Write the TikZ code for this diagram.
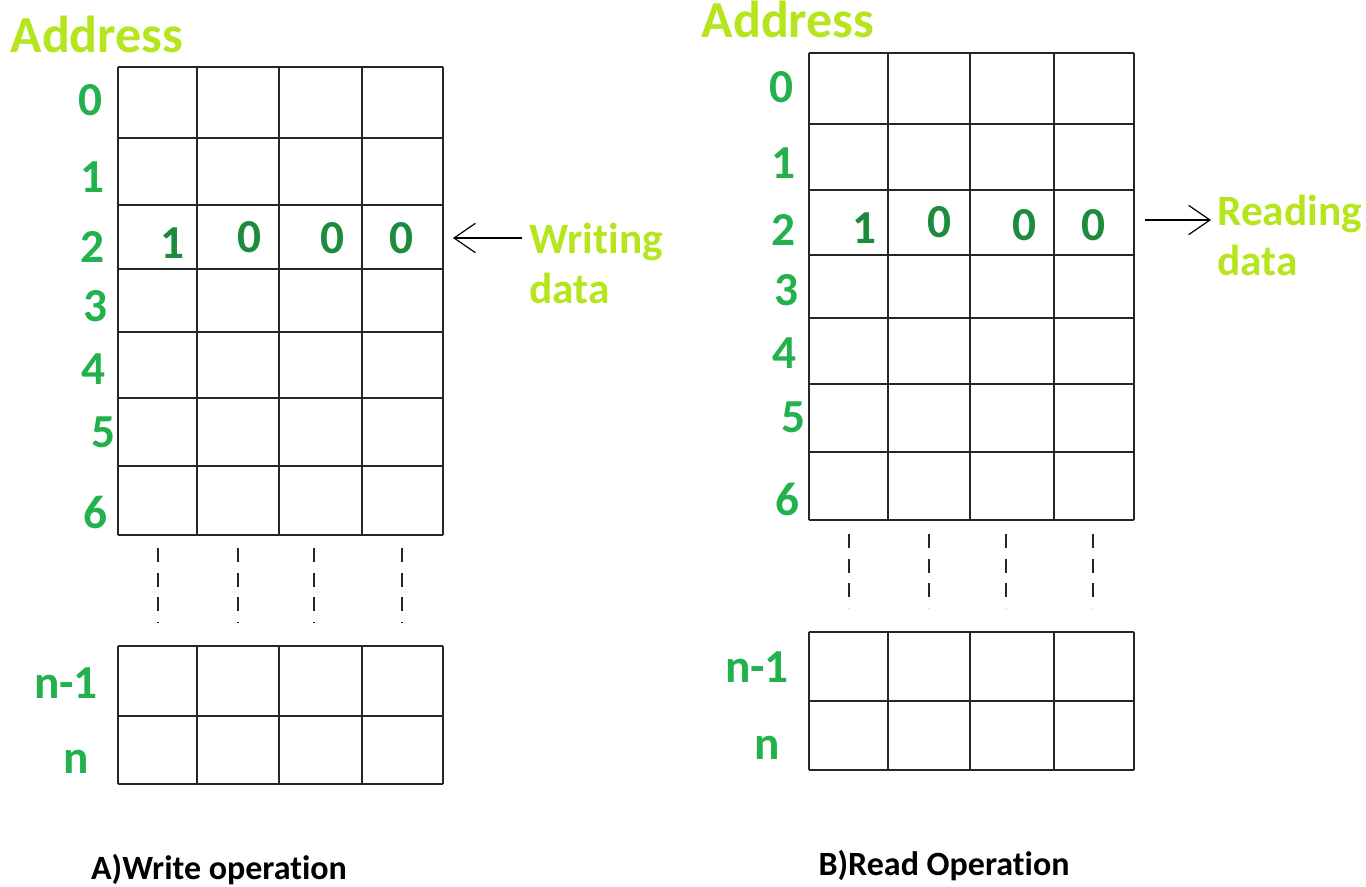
\documentclass[tikz,border=0pt]{standalone}
\usepackage{fontspec}
\setmainfont{Carlito}[Ligatures=NoCommon]
\usetikzlibrary{arrows.meta}

\definecolor{addrlime}{HTML}{B5E61D}
\definecolor{rowgreen}{HTML}{22B14C}
\definecolor{bitgreen}{HTML}{1D8B3D}

\begin{document}
\begin{tikzpicture}[
  x=0.75pt, y=-0.75pt,
  % ---- Text styles ----
  addr/.style={text=addrlime, inner sep=0, anchor=base,
               font=\fontsize{39}{42}\selectfont\bfseries},
  rowno/.style={text=rowgreen, inner sep=0, anchor=base,
                font=\fontsize{35.5}{38}\selectfont\bfseries},
  bit/.style={rowno, text=bitgreen},
  note/.style={text=addrlime, inner sep=0, anchor=base west, align=left,
               font=\fontsize{32.5}{37.5}\selectfont\bfseries},
  caption/.style={inner sep=0, anchor=base,
                  font=\fontsize{25.5}{28}\selectfont\bfseries},
  % ---- Lines ----
  cell/.style={line width=1.4pt, black!85},
  gap/.style={line width=1.2pt, black!85, dash pattern=on 10.5pt off 8pt},
  line/.style={-{Straight Barb[length=16pt,width=22pt,line width=0.9pt]},
               line width=0.9pt}
]
\useasboundingbox (0,0) rectangle (1366,886);
\fill[white] (0,0) rectangle (1366,886);

% ===== A) Write operation =====
% columns: 118 197 279 362 443 ; rows: 67 ... 535, then 646 716 784
\foreach \x in {118,197,279,362,443} \draw[cell] (\x,67) -- (\x,535);
\foreach \y in {67,138,205,269,332,398,466,535} \draw[cell] (118,\y) -- (443,\y);
\foreach \x in {118,197,279,362,443} \draw[cell] (\x,646) -- (\x,784);
\foreach \y in {646,716,784} \draw[cell] (118,\y) -- (443,\y);
\foreach \x in {158,238,314,402} \draw[gap] (\x,548) -- (\x,623);

\node[addr] (addrA) at (97,52) {Address};
\node[rowno] (rowA0) at (90,115) {0};
\node[rowno] (rowA1) at (92,192) {1};
\node[rowno] (rowA2) at (92,262) {2};
\node[rowno] (rowA3) at (95,321) {3};
\node[rowno] (rowA4) at (93,384) {4};
\node[rowno] (rowA5) at (103,447) {5};
\node[rowno] (rowA6) at (95,528) {6};
\node[rowno] (rowAm) at (66,698) {n-1};
\node[rowno] (rowAn) at (76,773) {n};

\node[bit] (bitA1) at (172,258) {1};
\node[bit] (bitA2) at (249,252) {0};
\node[bit] (bitA3) at (332,253) {0};
\node[bit] (bitA4) at (401,253) {0};

% base of a two-line node sits on its last line
\node[note] (writing) at (529,303) {Writing\\data};
\coordinate (wfrom) at (522,238);
\coordinate (wto)   at (453,238);
\draw[line] (wfrom) -- (wto);

\node[caption] (capA) at (219,879) {A)Write operation};

% ===== B) Read operation =====
% columns: 809 888 970 1054 1134 ; rows: 53 ... 520, then 632 701 770
\foreach \x in {809,888,970,1054,1134} \draw[cell] (\x,53) -- (\x,520);
\foreach \y in {53,124,190,255,318,384,452,520} \draw[cell] (809,\y) -- (1134,\y);
\foreach \x in {809,888,970,1054,1134} \draw[cell] (\x,632) -- (\x,770);
\foreach \y in {632,701,770} \draw[cell] (809,\y) -- (1134,\y);
\foreach \x in {849,929,1006,1093} \draw[gap] (\x,534) -- (\x,608);

\node[addr] (addrB) at (788,37) {Address};
\node[rowno] (rowB0) at (781,102) {0};
\node[rowno] (rowB1) at (783,178) {1};
\node[rowno] (rowB2) at (783,245) {2};
\node[rowno] (rowB3) at (786,305) {3};
\node[rowno] (rowB4) at (784,368) {4};
\node[rowno] (rowB5) at (793,432) {5};
\node[rowno] (rowB6) at (787,515) {6};
\node[rowno] (rowBm) at (757,682) {n-1};
\node[rowno] (rowBn) at (767,759) {n};

\node[bit] (bitB1) at (864,243) {1};
\node[bit] (bitB2) at (939,237) {0};
\node[bit] (bitB3) at (1024,240) {0};
\node[bit] (bitB4) at (1093,240) {0};

\node[note] (reading) at (1217,275) {Reading\\data};
\coordinate (rfrom) at (1145,220);
\coordinate (rto)   at (1211,220);
\draw[line] (rfrom) -- (rto);

\node[caption] (capB) at (944,875) {B)Read Operation};

\end{tikzpicture}
\end{document}
